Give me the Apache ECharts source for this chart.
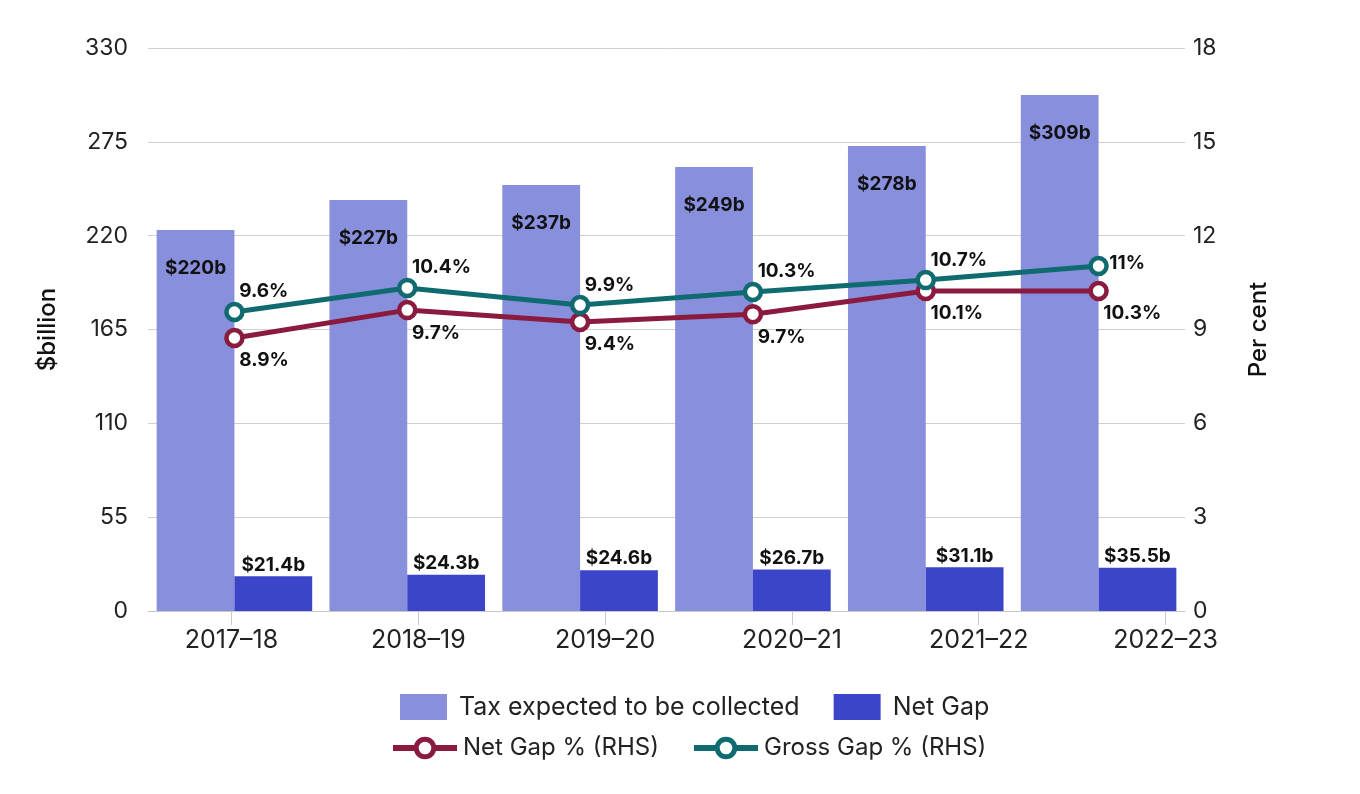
<!DOCTYPE html>
<html>
<head>
<meta charset="utf-8">
<script src="https://cdn.jsdelivr.net/npm/echarts@6/dist/echarts.min.js"></script>
<style>
html,body{margin:0;padding:0;background:#fff;}
#chart{width:1360px;height:794px;}
</style>
</head>
<body>
<div id="chart"></div>
<script>
// ---- data ----
const categories = ['2017–18', '2018–19', '2019–20', '2020–21', '2021–22', '2022–23'];
const taxExpected = [223.3, 240.9, 249.7, 260.2, 272.6, 302.4];
const taxLabels = ['$220b', '$227b', '$237b', '$249b', '$278b', '$309b'];
const netGap = [20.3, 21.3, 23.9, 24.3, 25.6, 25.4];
const netGapLabels = ['$21.4b', '$24.3b', '$24.6b', '$26.7b', '$31.1b', '$35.5b'];
const netGapPct = [8.73, 9.62, 9.24, 9.49, 10.23, 10.23];
const netGapPctLabels = ['8.9%', '9.7%', '9.4%', '9.7%', '10.1%', '10.3%'];
const grossGapPct = [9.56, 10.33, 9.78, 10.20, 10.58, 11.03];
const grossGapPctLabels = ['9.6%', '10.4%', '9.9%', '10.3%', '10.7%', '11%'];
const leftTicks = {min: 0, max: 330, interval: 55};
const rightTicks = {min: 0, max: 18, interval: 3};

const FONT = 'Inter, "Noto Sans", sans-serif';
const C_TAX = '#888fdd', C_NET = '#3a45c9', C_NETP = '#8a1b3e', C_GROSS = '#0f6b70';

const chart = echarts.init(document.getElementById('chart'));

const dataLabel = {fontFamily: FONT, fontSize: 19, fontWeight: 'bold', color: '#111'};

const grossData = grossGapPct.map((v, i) => {
  if (i === grossGapPct.length - 1) {
    return {value: v, label: {position: [21, 8], verticalAlign: 'middle', align: 'left'}};
  }
  return v;
});

chart.setOption({
  animation: false,
  backgroundColor: '#fff',
  grid: [
    {left: 148, right: 175, top: 48, bottom: 183},
    {left: 231.5, right: 194.5, top: 48, bottom: 183}
  ],
  legend: [
    {
      data: ['Tax expected to be collected', 'Net Gap'],
      left: 400, top: 694, padding: 0,
      icon: 'rect', itemWidth: 47, itemHeight: 26, itemGap: 34,
      textStyle: {fontFamily: FONT, fontSize: 25, color: '#222', padding: [0, 0, 0, 7]}
    },
    {
      data: ['Net Gap % (RHS)', 'Gross Gap % (RHS)'],
      left: 390, top: 736, padding: 0,
      itemWidth: 64, itemHeight: 22, itemGap: 32,
      lineStyle: {width: 6},
      itemStyle: {borderWidth: 5},
      textStyle: {fontFamily: FONT, fontSize: 24, color: '#222', padding: [0, 0, 0, 1]}
    }
  ],
  xAxis: [
    {
      type: 'category', gridIndex: 0, data: categories,
      axisLine: {lineStyle: {color: '#c8c8c8', width: 1}},
      axisTick: {show: false}, axisLabel: {show: false}
    },
    {
      type: 'category', gridIndex: 1, data: categories, boundaryGap: false,
      axisLine: {show: false},
      axisTick: {show: true, length: 14, lineStyle: {color: '#c8c8c8'}},
      axisLabel: {fontFamily: FONT, fontSize: 25, color: '#222', margin: 17}
    }
  ],
  yAxis: [
    {
      type: 'value', gridIndex: 0, min: leftTicks.min, max: leftTicks.max, interval: leftTicks.interval,
      axisLine: {show: false}, axisTick: {show: false},
      splitLine: {lineStyle: {color: '#cfcfcf', width: 1}},
      axisLabel: {fontFamily: FONT, fontSize: 23, color: '#222', margin: 20},
      name: '$billion', nameLocation: 'middle', nameGap: 88,
      nameTextStyle: {fontFamily: FONT, fontSize: 24, fontWeight: 500, color: '#111'}
    },
    {
      type: 'value', gridIndex: 0, position: 'right', min: rightTicks.min, max: rightTicks.max, interval: rightTicks.interval,
      axisLine: {show: false}, axisTick: {show: false}, splitLine: {show: false},
      axisLabel: {fontFamily: FONT, fontSize: 23, color: '#222', margin: 8},
      name: 'Per cent', nameLocation: 'middle', nameGap: 62,
      nameTextStyle: {fontFamily: FONT, fontSize: 24, fontWeight: 500, color: '#111'}
    },
    {type: 'value', gridIndex: 1, show: false, min: 0, max: 1}
  ],
  series: [
    {
      name: 'Tax expected to be collected', type: 'bar', xAxisIndex: 0, yAxisIndex: 0,
      data: taxExpected, barGap: '0%', barCategoryGap: '10%',
      itemStyle: {color: C_TAX},
      label: Object.assign({show: true, position: 'insideTop', distance: 29,
        formatter: p => taxLabels[p.dataIndex]}, dataLabel)
    },
    {
      name: 'Net Gap', type: 'bar', xAxisIndex: 0, yAxisIndex: 0,
      data: netGap, barGap: '0%', barCategoryGap: '10%',
      itemStyle: {color: C_NET},
      label: Object.assign({show: true, position: 'top', distance: 2,
        formatter: p => netGapLabels[p.dataIndex]}, dataLabel)
    },
    {
      name: 'Net Gap % (RHS)', type: 'line', xAxisIndex: 0, yAxisIndex: 1,
      data: netGapPct, symbol: 'circle', symbolSize: 16, z: 3,
      lineStyle: {color: C_NETP, width: 5},
      itemStyle: {color: '#fff', borderColor: C_NETP, borderWidth: 4.5},
      label: Object.assign({show: true, position: [15, 33], align: 'left', verticalAlign: 'middle',
        formatter: p => netGapPctLabels[p.dataIndex]}, dataLabel)
    },
    {
      name: 'Gross Gap % (RHS)', type: 'line', xAxisIndex: 0, yAxisIndex: 1,
      data: grossData, symbol: 'circle', symbolSize: 16, z: 4,
      lineStyle: {color: C_GROSS, width: 5},
      itemStyle: {color: '#fff', borderColor: C_GROSS, borderWidth: 4.5},
      label: Object.assign({show: true, position: [15, -10], align: 'left', verticalAlign: 'middle',
        formatter: p => grossGapPctLabels[p.dataIndex]}, dataLabel)
    }
  ]
});
</script>
</body>
</html>
